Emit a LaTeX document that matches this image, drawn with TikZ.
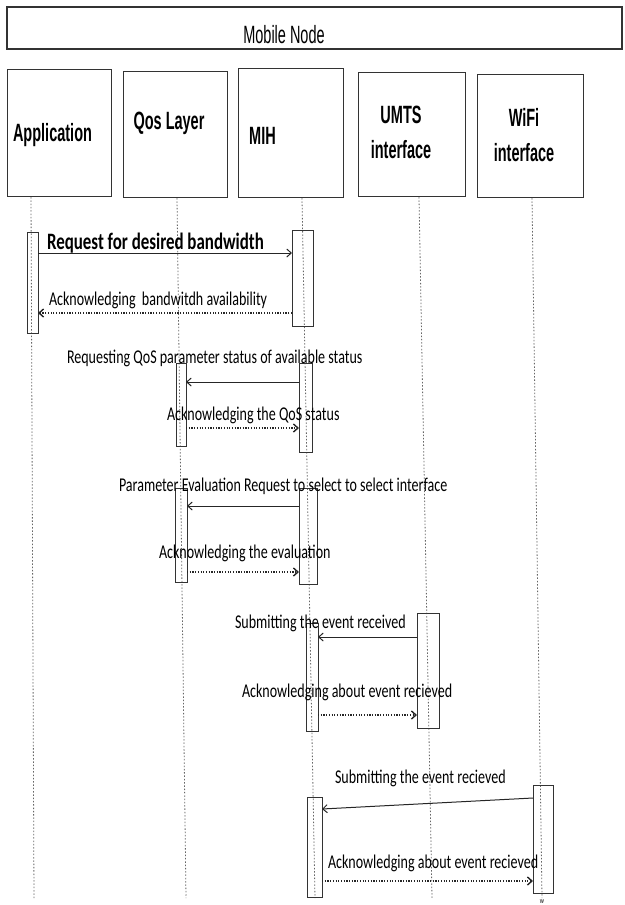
\documentclass[tikz,border=0pt]{standalone}
\usepackage{fontspec}
\setmainfont[FakeStretch=0.72]{Carlito}
\newfontfamily\headfont[FakeStretch=0.58]{Liberation Sans}
\usetikzlibrary{arrows.meta}

\begin{document}
\begin{tikzpicture}[x=1pt, y=-1pt,
    every node/.style={inner sep=0pt, outer sep=0pt},
    hbox/.style={rectangle, draw=black!80, line width=1pt},
    hname/.style={font=\headfont\bfseries\fontsize{25}{35}\selectfont, align=center},
    act/.style={rectangle, draw=black!80, line width=0.9pt},
    lifeline/.style={draw=black!60, line width=0.8pt, dash pattern=on 1.5pt off 1.8pt},
    msg/.style={draw=black!85, line width=1pt, -{Straight Barb[length=4.5pt,width=8pt]}},
    reply/.style={draw=black!85, line width=1.4pt, dash pattern=on 1.2pt off 1.5pt, -{Straight Barb[length=4.5pt,width=8pt]}},
    txt/.style={anchor=base west, font=\fontsize{19.5}{20}\selectfont}]
    \useasboundingbox (0,0) rectangle (624,905);

    % Mobile node frame
    \node[hbox, line width=1.4pt, minimum width=615, minimum height=42] (mn) at (314.5,28) {};
    \node[font=\headfont\fontsize{25}{26}\selectfont] (mntext) at (284,35) {Mobile Node};

    % heads of the lifelines
    \node[hbox, minimum width=104, minimum height=127] (app) at (59,132.5) {};
    \node[hbox, minimum width=104, minimum height=126] (qos) at (175,134) {};
    \node[hbox, minimum width=105, minimum height=129] (mih) at (290.5,132.5) {};
    \node[hbox, minimum width=107, minimum height=124] (umts) at (411.5,134) {};
    \node[hbox, minimum width=106, minimum height=123] (wifi) at (530,135.5) {};

    \node[hname] (appname) at (52.5,135) {Application};
    \node[hname] (qosname) at (169,123) {Qos Layer};
    \node[hname] (mihname) at (262.5,136) {MIH};
    \node[hname] (umtsname) at (401,132.5) {UMTS\\interface};
    \node[hname] (wifiname) at (524,135) {WiFi\\interface};

    % lifelines
    \coordinate (app-t) at (31,197);   \coordinate (app-b) at (34,898);
    \coordinate (qos-t) at (177,198);  \coordinate (qos-b) at (186,898);
    \coordinate (mih-t) at (302,198);  \coordinate (mih-b) at (315,898);
    \coordinate (umts-t) at (419,197); \coordinate (umts-b) at (432,898);
    \coordinate (wifi-t) at (532,198); \coordinate (wifi-b) at (542,898);
    \foreach \n in {app,qos,mih,umts,wifi}
        \draw[lifeline] (\n-t) -- (\n-b);

    % activation boxes
    \node[act, minimum width=11, minimum height=101] (a1) at (32.5,282.5) {};
    \node[act, minimum width=21, minimum height=96] (m1) at (302.5,278) {};
    \node[act, minimum width=10, minimum height=83] (q1) at (181,404.5) {};
    \node[act, minimum width=13, minimum height=89] (m2) at (305.5,407.5) {};
    \node[act, minimum width=12, minimum height=94] (q2) at (181,535) {};
    \node[act, minimum width=18, minimum height=96] (m3) at (308,536) {};
    \node[act, minimum width=12, minimum height=108] (m4) at (312,677) {};
    \node[act, minimum width=22, minimum height=115] (u1) at (428,670.5) {};
    \node[act, minimum width=15, minimum height=100] (m5) at (314.5,847) {};
    \node[act, minimum width=20, minimum height=108] (w1) at (543,839) {};

    % messages
    \draw[msg] ([yshift=-21pt]a1.north east) -- ([yshift=-23pt]m1.north west);
    \node[txt, font=\bfseries\fontsize{23.5}{24}\selectfont] (l1) at (47,249) {Request for desired bandwidth};
    \draw[reply] ([yshift=-83pt]m1.north west) -- ([yshift=-81pt]a1.north east);
    \node[txt] (l2) at (49,305) {Acknowledging\ \ bandwitdh availability};

    \draw[msg] ([yshift=-19pt]m2.north west) -- ([yshift=-19pt]q1.north east);
    \node[txt] (l3) at (67,363) {Requesting QoS parameter status of available status};
    \draw[reply] ([yshift=-65pt]q1.north east) -- ([yshift=-65pt]m2.north west);
    \node[txt] (l4) at (167,420) {Acknowledging the QoS status};

    \draw[msg] ([yshift=-18pt]m3.north west) -- ([yshift=-18pt]q2.north east);
    \node[txt] (l5) at (119,491) {Parameter Evaluation Request to select to select interface};
    \draw[reply] ([yshift=-84pt]q2.north east) -- ([yshift=-84pt]m3.north west);
    \node[txt] (l6) at (159,558) {Acknowledging the evaluation};

    \draw[msg] ([yshift=-24pt]u1.north west) -- ([yshift=-14pt]m4.north east);
    \node[txt] (l7) at (235,628) {Submitting the event received};
    \draw[reply] ([yshift=-92pt]m4.north east) -- ([yshift=-102pt]u1.north west);
    \node[txt] (l8) at (242,697) {Acknowledging about event recieved};

    \draw[msg] ([yshift=-13pt]w1.north west) -- ([yshift=-12pt]m5.north east);
    \node[txt] (l9) at (335,783) {Submitting the event recieved};
    \draw[reply] ([yshift=-84pt]m5.north east) -- ([yshift=-96pt]w1.north west);
    \node[txt] (l10) at (328,868) {Acknowledging about event recieved};

    \node[font=\fontsize{8}{8}\selectfont] (wmark) at (542,902) {w};
\end{tikzpicture}
\end{document}
